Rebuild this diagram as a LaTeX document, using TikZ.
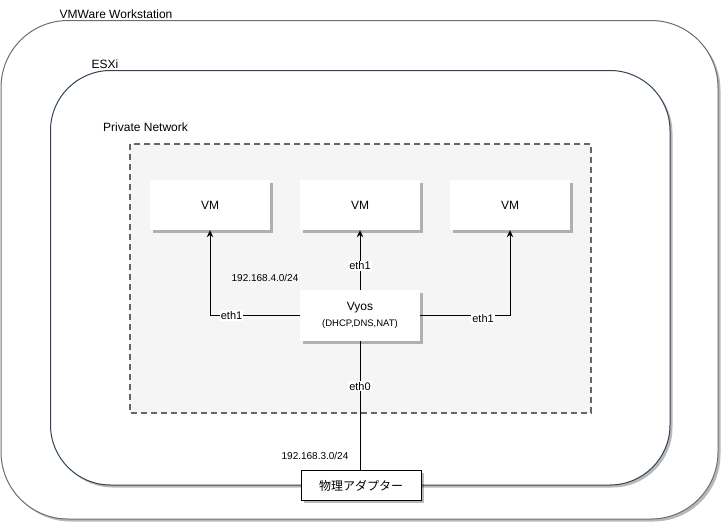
\documentclass[tikz,border=0pt]{standalone}
\usepackage{fontspec}
\setmainfont{Liberation Sans}
\newfontfamily\jpfont{Noto Sans CJK JP}
\usepackage{xcolor}
\usepackage{tikz}
\usetikzlibrary{arrows.meta, positioning, calc, shadows}

\definecolor{netfill}{HTML}{F5F5F5}
\definecolor{netline}{HTML}{666666}
\definecolor{esxline}{HTML}{314354}
\definecolor{wsline}{HTML}{6E6E6E}

\tikzset{
    boxshadow/.style={drop shadow={shadow xshift=2.5pt, shadow yshift=-2.5pt, opacity=0.28, fill=black}},
    frame/.style={fill=white, line width=1pt, boxshadow},
    framelabel/.style={anchor=base west, inner sep=0pt, font=\fontsize{12}{14}\selectfont},
    vmbox/.style={fill=white, minimum width=120pt, minimum height=50pt, inner sep=0pt, boxshadow, font=\fontsize{12}{14}\selectfont},
    ethlabel/.style={fill=white, inner sep=1pt, font=\fontsize{11}{12}\selectfont},
    iplabel/.style={inner sep=0pt, font=\fontsize{10}{12}\selectfont},
    link/.style={line width=1pt},
    arrowlink/.style={link, -{Stealth[length=7pt, width=6.5pt]}}
}

\begin{document}
\begin{tikzpicture}[x=1pt, y=-1pt]
        \useasboundingbox (0,0) rectangle (724,525);

        % frames
        \draw[frame, draw=wsline, rounded corners=67pt] (1,20.5) rectangle (718,519);
        \node[framelabel] (wslabel) at (59.5,18.5) {VMWare Workstation};

        \draw[frame, draw=esxline, rounded corners=60pt] (50.5,70.5) rectangle (670,485);
        \node[framelabel] (esxlabel) at (91.5,68.5) {ESXi};

        \draw[fill=netfill, draw=netline, line width=1.6pt, dash pattern=on 6pt off 4pt] (130,144) rectangle (591,413);
        \node[framelabel] (netlabel) at (103,131) {Private Network};

        % boxes
        \node[vmbox] (vmleft) at (210,205) {VM};
        \node[vmbox] (vmmid) at (360,205) {VM};
        \node[vmbox] (vmright) at (510,205) {VM};

        \node[vmbox, minimum height=51pt, align=center, font=\fontsize{12}{16}\selectfont] (vyos) at (360,315.5)
            {Vyos\\{\fontsize{9.5}{11}\selectfont (DHCP,DNS,NAT)}};

        \node[draw, fill=white, line width=1pt, minimum width=120pt, minimum height=30pt, inner sep=0pt,
            boxshadow, font=\jpfont\fontsize{12}{14}\selectfont] (adapter) at (361,485.5) {物理アダプター};

        % links
        \draw[arrowlink] (vyos.west) -| node[ethlabel, pos=0.38] {eth1} (vmleft.south);
        \draw[arrowlink] (vyos.east) -| node[ethlabel, pos=0.35, yshift=-3pt] {eth1} (vmright.south);
        \draw[arrowlink] (vyos.north) -- node[ethlabel, pos=0.4] {eth1} (vmmid.south);
        \draw[link] (vyos.south) -- node[ethlabel, pos=0.35] {eth0} (vyos.south |- adapter.north);

        \node[iplabel] (privnet) at (265,278) {192.168.4.0/24};
        \node[iplabel] (extnet) at (315,456) {192.168.3.0/24};
    \end{tikzpicture}
\end{document}
